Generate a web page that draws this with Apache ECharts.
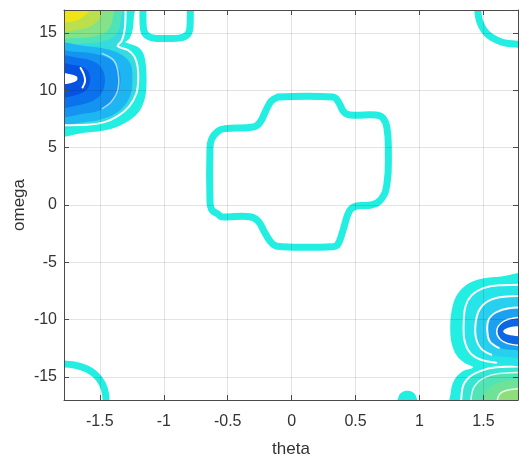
<!DOCTYPE html>
<html><head><meta charset="utf-8">
<script src="https://cdn.jsdelivr.net/npm/echarts@6/dist/echarts.min.js"></script>
<style>html,body{margin:0;padding:0;background:#fff}#c{width:519px;height:459px}</style>
</head><body><div id="c"></div>
<script>
// axis ranges
const thetaRange = [-1.78, 1.77];
const omegaRange = [-17, 17];
const axisNames = ['theta', 'omega'];

// ---- single cyan contour lines, points are [theta, omega] ----
const centralContour = [[-0.106,9.42],[0.322,9.42],[0.361,9.07],[0.413,8.05],[0.465,7.85],[0.66,7.85],[0.712,7.6],[0.745,6.74],[0.756,4.71],[0.745,1.8],[0.699,0.49],[0.62,0.0],[0.504,-0.09],[0.452,-0.52],[0.4,-2.27],[0.361,-3.43],[0.322,-3.63],[-0.08,-3.63],[-0.145,-3.43],[-0.21,-2.41],[-0.262,-1.4],[-0.327,-1.02],[-0.548,-1.02],[-0.574,-0.81],[-0.626,-0.38],[-0.639,0.64],[-0.639,4.7],[-0.626,5.73],[-0.574,6.45],[-0.52,6.66],[-0.30,6.8],[-0.249,7.18],[-0.197,8.34],[-0.158,9.07],[-0.106,9.42]];
const topU = [[-1.16,18.0],[-1.16,15.5],[-1.14,14.85],[-1.08,14.55],[-0.98,14.52],[-0.88,14.55],[-0.815,14.85],[-0.795,15.5],[-0.795,18.0]];
const topRightArc = [[1.455,18.0],[1.46,16.5],[1.485,15.6],[1.53,14.9],[1.6,14.4],[1.68,14.1],[1.85,14.0]];
const bottomLeftArc = [[-1.85,-13.85],[-1.7,-13.95],[-1.6,-14.3],[-1.53,-14.85],[-1.48,-15.6],[-1.455,-16.5],[-1.45,-18.0]];
const smallBlob = [[0.83,-17.4],[0.84,-16.6],[0.87,-16.28],[0.905,-16.2],[0.94,-16.28],[0.97,-16.6],[0.98,-17.4]];

// ---- top-left lobe levels (outer -> inner) ----
const tlOuter = [[-1.9,6.28],[-1.6,6.32],[-1.44,6.55],[-1.31,7.1],[-1.2,8.05],[-1.15,9.2],[-1.135,10.5],[-1.14,12.2],[-1.16,13.2],[-1.2,13.75],[-1.27,14.05],[-1.30,14.2],[-1.27,14.5],[-1.245,15.2],[-1.235,16.2],[-1.235,18.5],[-1.9,18.5]];
const tlInner = [[-1.9,6.95],[-1.6,7.0],[-1.47,7.2],[-1.36,7.75],[-1.27,8.6],[-1.215,9.7],[-1.2,10.8],[-1.205,12.1],[-1.23,12.95],[-1.28,13.5],[-1.36,13.85],[-1.33,14.3],[-1.31,15.0],[-1.3,16],[-1.3,18.5],[-1.9,18.5]];
const tlTop1 = [[-1.33,18.5],[-1.34,15.8],[-1.37,14.9],[-1.45,14.35],[-1.6,14.1],[-1.9,14.05]];
const tlTop2 = [[-1.39,18.5],[-1.4,16.2],[-1.44,15.2],[-1.55,14.7],[-1.7,14.55],[-1.9,14.5]];
const tlTop3 = [[-1.47,18.5],[-1.48,16.8],[-1.54,15.8],[-1.65,15.3],[-1.9,15.15]];
const tlTop4 = [[-1.56,18.5],[-1.57,17.2],[-1.63,16.4],[-1.72,16.0],[-1.9,15.9]];
const tlBump1 = [[-1.9,7.2],[-1.6,7.25],[-1.45,7.6],[-1.33,8.4],[-1.26,9.6],[-1.245,11.0],[-1.26,12.3],[-1.33,13.1],[-1.45,13.6],[-1.6,13.85],[-1.9,13.9]];
const tlBump2 = [[-1.9,7.9],[-1.6,8.0],[-1.47,8.4],[-1.38,9.3],[-1.34,10.5],[-1.35,11.8],[-1.42,12.7],[-1.55,13.2],[-1.7,13.35],[-1.9,13.4]];
const tlBump3 = [[-1.9,8.6],[-1.65,8.75],[-1.52,9.3],[-1.465,10.3],[-1.47,11.6],[-1.53,12.4],[-1.65,12.8],[-1.9,12.9]];
const tlBump4 = [[-1.9,9.4],[-1.7,9.55],[-1.6,10.1],[-1.575,11.0],[-1.6,11.8],[-1.7,12.2],[-1.9,12.3]];
const tlHole = [[-1.9,10.55],[-1.75,10.58],[-1.68,10.85],[-1.68,11.2],[-1.75,11.45],[-1.9,11.5]];
const tlGapA = [[-1.65,11.95],[-1.625,11.4],[-1.615,10.8],[-1.635,10.25]];
const tlGapB = [[-1.48,13.2],[-1.39,12.6],[-1.355,11.4],[-1.36,10.0],[-1.41,9.0],[-1.48,8.4]];

// ---- bottom-right lobe levels ----
const brOuter = [[1.9,-6.25],[1.6,-6.28],[1.46,-6.5],[1.35,-7.1],[1.28,-8.1],[1.25,-9.3],[1.24,-10.6],[1.25,-12.0],[1.29,-13.1],[1.35,-13.75],[1.42,-14.15],[1.33,-14.55],[1.27,-15.3],[1.245,-16.3],[1.24,-18.5],[1.9,-18.5]];
const brLow1 = [[1.9,-14.1],[1.6,-14.15],[1.47,-14.5],[1.38,-15.1],[1.335,-16.0],[1.325,-18.5],[1.9,-18.5]];
const brLow2 = [[1.9,-14.6],[1.62,-14.7],[1.5,-15.1],[1.43,-15.8],[1.405,-16.7],[1.4,-18.5],[1.9,-18.5]];
const brLow3 = [[1.9,-15.3],[1.65,-15.4],[1.55,-15.9],[1.5,-16.6],[1.49,-18.5],[1.9,-18.5]];
const brLow4 = [[1.9,-16.0],[1.7,-16.1],[1.62,-16.6],[1.6,-18.5],[1.9,-18.5]];
const brRing1 = [[1.9,-6.95],[1.62,-7.0],[1.5,-7.25],[1.41,-7.85],[1.36,-8.8],[1.345,-10.3],[1.35,-11.7],[1.39,-12.8],[1.47,-13.45],[1.6,-13.75],[1.9,-13.8]];
const brRing2 = [[1.9,-7.95],[1.66,-8.0],[1.54,-8.35],[1.47,-9.1],[1.44,-10.2],[1.44,-11.5],[1.48,-12.5],[1.56,-13.05],[1.7,-13.25],[1.9,-13.3]];
const brRing3 = [[1.9,-8.95],[1.7,-9.0],[1.6,-9.35],[1.54,-10.0],[1.53,-11.0],[1.55,-11.9],[1.62,-12.45],[1.75,-12.65],[1.9,-12.7]];
const brRing4 = [[1.9,-9.8],[1.74,-9.85],[1.65,-10.2],[1.605,-10.9],[1.63,-11.7],[1.72,-12.15],[1.9,-12.25]];
const brHole = [[1.9,-10.55],[1.76,-10.58],[1.67,-10.8],[1.655,-11.05],[1.69,-11.3],[1.78,-11.45],[1.9,-11.47]];

const CYAN = '#22EEE2';
const FONT = 'Liberation Sans, Arial, Helvetica, sans-serif';

function shape(points, o) {
  return {
    type: 'custom', coordinateSystem: 'cartesian2d', clip: true, silent: true,
    data: points, encode: { x: 0, y: 1 }, z: 2,
    renderItem: function (params, api) {
      if (params.dataIndex !== 0) return null;
      const pts = points.map(p => api.coord(p));
      return {
        type: o.closed ? 'polygon' : 'polyline',
        shape: { points: pts, smooth: o.smooth == null ? 0.35 : o.smooth },
        style: { fill: o.fill || 'none', stroke: o.stroke || 'none', lineWidth: o.width || 0, lineJoin: 'round', lineCap: 'round' }
      };
    }
  };
}
const fillS = (p, c) => shape(p, { closed: true, fill: c });
const lineS = (p, c, w, sm) => shape(p, { closed: false, stroke: c, width: w, smooth: sm });
const openPart = (p, n) => p.slice(0, n);

const series = [
  // top-left
  fillS(tlOuter, CYAN),
  fillS(tlInner, '#34DCE0'),
  fillS(tlTop1, '#4EE4B8'),
  fillS(tlTop2, '#84E288'),
  fillS(tlTop3, '#BCE04C'),
  fillS(tlTop4, '#EEE416'),
  fillS(tlBump1, '#1EB6F2'),
  fillS(tlBump2, '#1494F0'),
  fillS(tlBump3, '#0A72EC'),
  fillS(tlBump4, '#0452E2'),
  fillS(tlHole, '#FFFFFF'),
  lineS(openPart(tlInner, 15), '#FFFFFF', 2),
  lineS(tlGapA, '#FFFFFF', 2),
  lineS(tlGapB, 'rgba(255,255,255,0.6)', 1.5),
  // bottom-right
  fillS(brOuter, CYAN),
  fillS(brLow1, '#36E6D4'),
  fillS(brLow2, '#52E4B4'),
  fillS(brLow3, '#6EE296'),
  fillS(brLow4, '#8EDF7C'),
  lineS(openPart(brLow1, 6), '#FFFFFF', 2),
  lineS(openPart(brLow2, 6), 'rgba(255,255,255,0.8)', 1.5),
  lineS(openPart(brLow4, 4), 'rgba(255,255,255,0.8)', 1.5),
  fillS(brRing1, '#26E4E8'),
  fillS(brRing2, '#26D0EE'),
  fillS(brRing3, '#1CA0F0'),
  fillS(brRing4, '#0D66E2'),
  fillS(brHole, '#FFFFFF'),
  lineS(openPart(brRing1, 10), '#FFFFFF', 2),
  lineS(openPart(brRing2, 8), '#FFFFFF', 2),
  lineS(openPart(brRing3, 7), '#FFFFFF', 2),
  lineS(brRing4, '#FFFFFF', 1.5),
  // single contours
  lineS(centralContour, CYAN, 7, 0.45),
  lineS(topU, CYAN, 7),
  lineS(topRightArc, CYAN, 7),
  lineS(bottomLeftArc, CYAN, 7),
  fillS(smallBlob, CYAN)
];

const axisCol = '#4a4a4a';
const labelStyle = { color: '#333', fontSize: 16, fontFamily: FONT };
function xAx(pos, main) {
  return {
    type: 'value', min: thetaRange[0], max: thetaRange[1], splitNumber: 7, position: pos, z: 10,
    axisLine: { show: true, onZero: false, lineStyle: { color: axisCol, width: 1 } },
    axisTick: { show: true, inside: true, length: 5, lineStyle: { color: axisCol } },
    axisLabel: Object.assign({ show: main, showMinLabel: false, showMaxLabel: false, margin: 14 }, labelStyle),
    splitLine: { show: main, lineStyle: { color: 'rgba(0,0,0,0.11)', width: 1 } },
    name: main ? axisNames[0] : '', nameLocation: 'middle', nameGap: 41, nameMoveOverlap: false,
    nameTextStyle: { color: '#333', fontSize: 17, fontFamily: FONT }
  };
}
function yAx(pos, main) {
  return {
    type: 'value', min: omegaRange[0], max: omegaRange[1], splitNumber: 7, position: pos, z: 10,
    axisLine: { show: true, onZero: false, lineStyle: { color: axisCol, width: 1 } },
    axisTick: { show: true, inside: true, length: 5, lineStyle: { color: axisCol } },
    axisLabel: Object.assign({ show: main, showMinLabel: false, showMaxLabel: false, margin: 7 }, labelStyle),
    splitLine: { show: main, lineStyle: { color: 'rgba(0,0,0,0.11)', width: 1 } },
    name: main ? axisNames[1] : '', nameLocation: 'middle', nameGap: 36, nameMoveOverlap: false,
    nameTextStyle: { color: '#333', fontSize: 17, fontFamily: FONT }
  };
}

const chart = echarts.init(document.getElementById('c'), null, { renderer: 'canvas' });
chart.setOption({
  animation: false,
  backgroundColor: '#fff',
  grid: { left: 64, top: 10, width: 454, height: 390, show: false, containLabel: false, outerBoundsMode: 'none' },
  xAxis: [xAx('bottom', true), xAx('top', false)],
  yAxis: [yAx('left', true), yAx('right', false)],
  series: series.map(s => Object.assign(s, { xAxisIndex: 0, yAxisIndex: 0 }))
});
</script></body></html>
